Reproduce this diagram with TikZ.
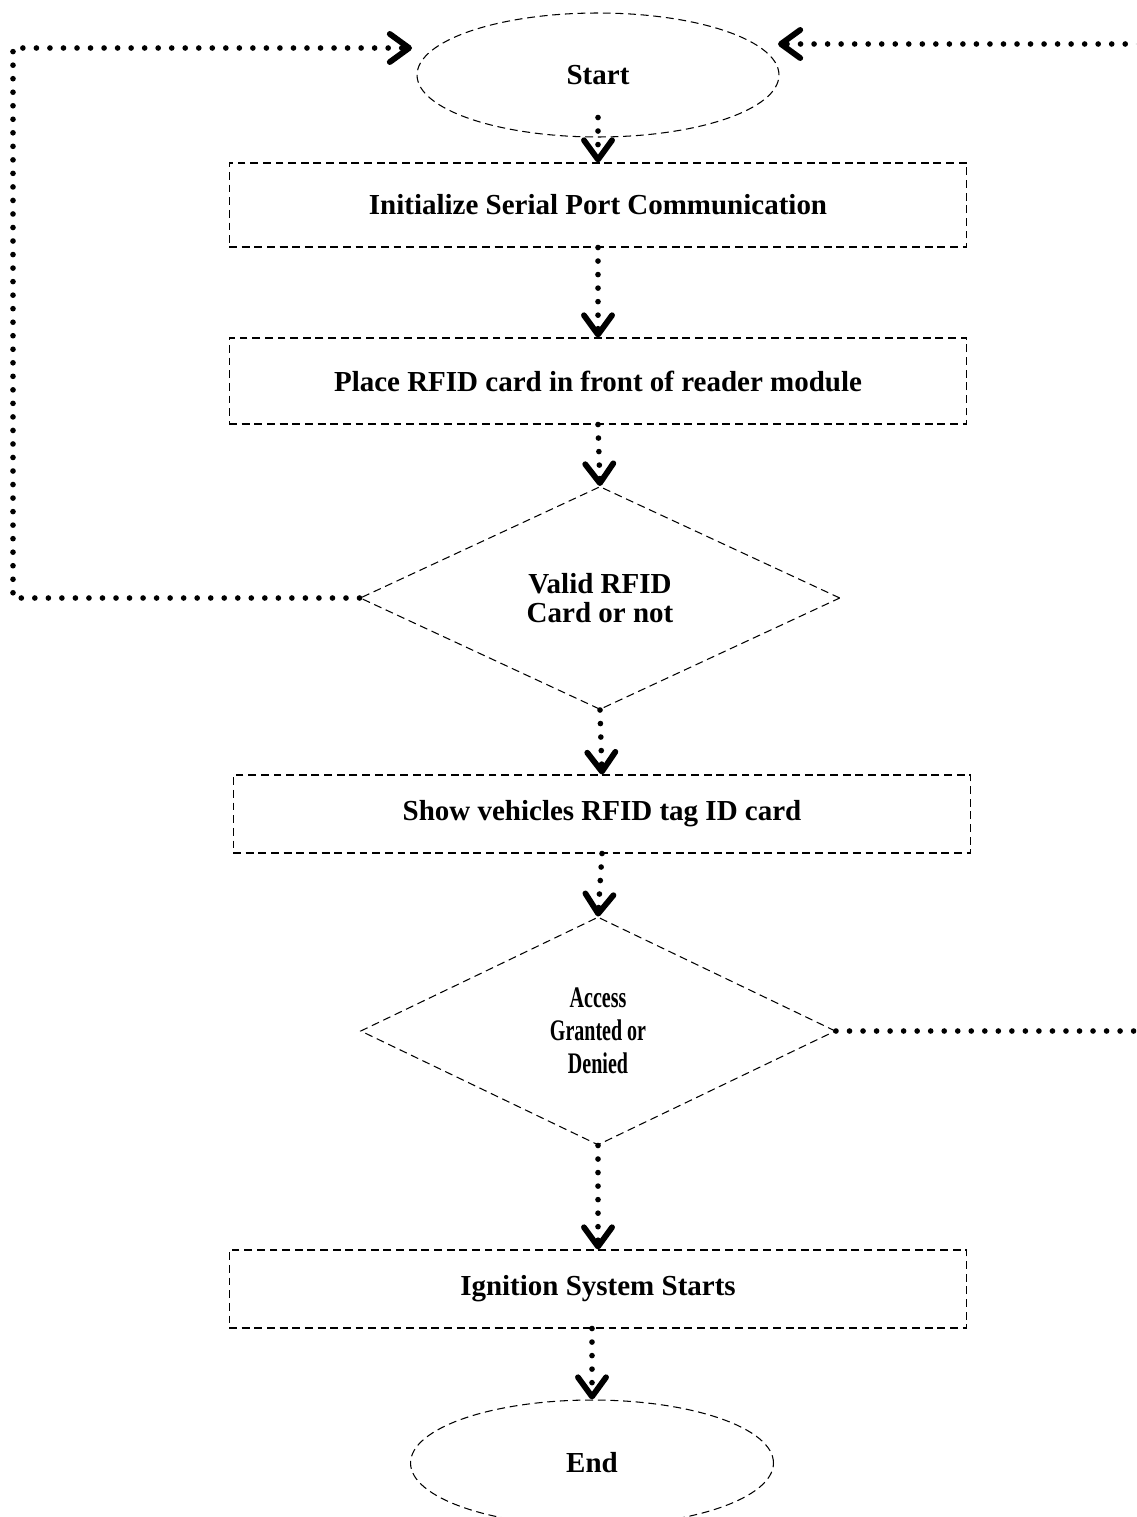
\documentclass[tikz,border=0pt]{standalone}
\usepackage{fontspec}
\setmainfont{Liberation Serif}
\usepackage{graphicx}
\usetikzlibrary{shapes.geometric,arrows.meta}
\newcommand{\slim}[1]{\scalebox{0.67}[1]{#1}}
\tikzset{
  dashbox/.style={draw, dash pattern=on 4.5pt off 2.7pt, line width=0.6pt,
    font=\bfseries\fontsize{16.5}{16.5}\selectfont, align=center, inner sep=0pt},
  procbox/.style={dashbox, rectangle, minimum width=14.76cm, minimum height=1.68cm},
  decbox/.style={dashbox, diamond},
  termbox/.style={dashbox, ellipse, minimum width=7.24cm, minimum height=2.48cm},
  flow/.style={line width=3.2pt, line cap=round, dash pattern=on 0pt off 7.7pt,
    -{Straight Barb[length=11pt,width=16pt,line width=3.3pt,round]}}
}
\begin{document}
\begin{tikzpicture}[x=0.02cm,y=-0.02cm]
  \useasboundingbox (0,0) rectangle (1136,1517);
  \clip (0,0) rectangle (1136,1517);
  % flow chart
  \node[termbox] (start) at (598,75) {Start};
  \node[procbox] (serial) at (598,205) {Initialize Serial Port Communication};
  \node[procbox, minimum height=1.72cm] (place) at (598,381) {Place RFID card in front of reader module};
  \node[decbox, minimum width=9.6cm, minimum height=4.46cm] (valid) at (600,598) {Valid RFID\\Card or not};
  \node[procbox, minimum height=1.56cm] (show) at (602,814) {Show vehicles RFID tag ID card};
  \node[decbox, minimum width=9.5cm, minimum height=4.56cm,
    font=\bfseries\fontsize{17}{18.7}\selectfont] (access) at (598,1031)
    {\slim{Access}\\\slim{Granted or}\\\slim{Denied}};
  \node[procbox, minimum height=1.56cm] (ignition) at (598,1289) {Ignition System Starts};
  \node[termbox, minimum width=7.26cm, minimum height=2.52cm] (end) at (592,1463) {End};
  \coordinate (leftrail) at (13,0);
  \coordinate (rightrail) at (1150,0);
  \coordinate (startinl) at (412,48);
  \coordinate (startinr) at (778,44);
  % arrows
  \draw[flow] ([yshift=0.4cm]start.south) -- (serial.north);
  \draw[flow] (serial.south) -- (place.north);
  \draw[flow] (place.south) -- (valid.north);
  \draw[flow] (valid.south) -- (show.north);
  \draw[flow] (show.south) -- (access.north);
  \draw[flow] (access.south) -- (ignition.north);
  \draw[flow] (end.north |- ignition.south) -- (end.north);
  % loops back to start
  \draw[flow] (valid.west) -| (leftrail |- startinl) -- (startinl);
  \draw[flow] (access.east) -| (rightrail |- startinr) -- (startinr);
\end{tikzpicture}
\end{document}
